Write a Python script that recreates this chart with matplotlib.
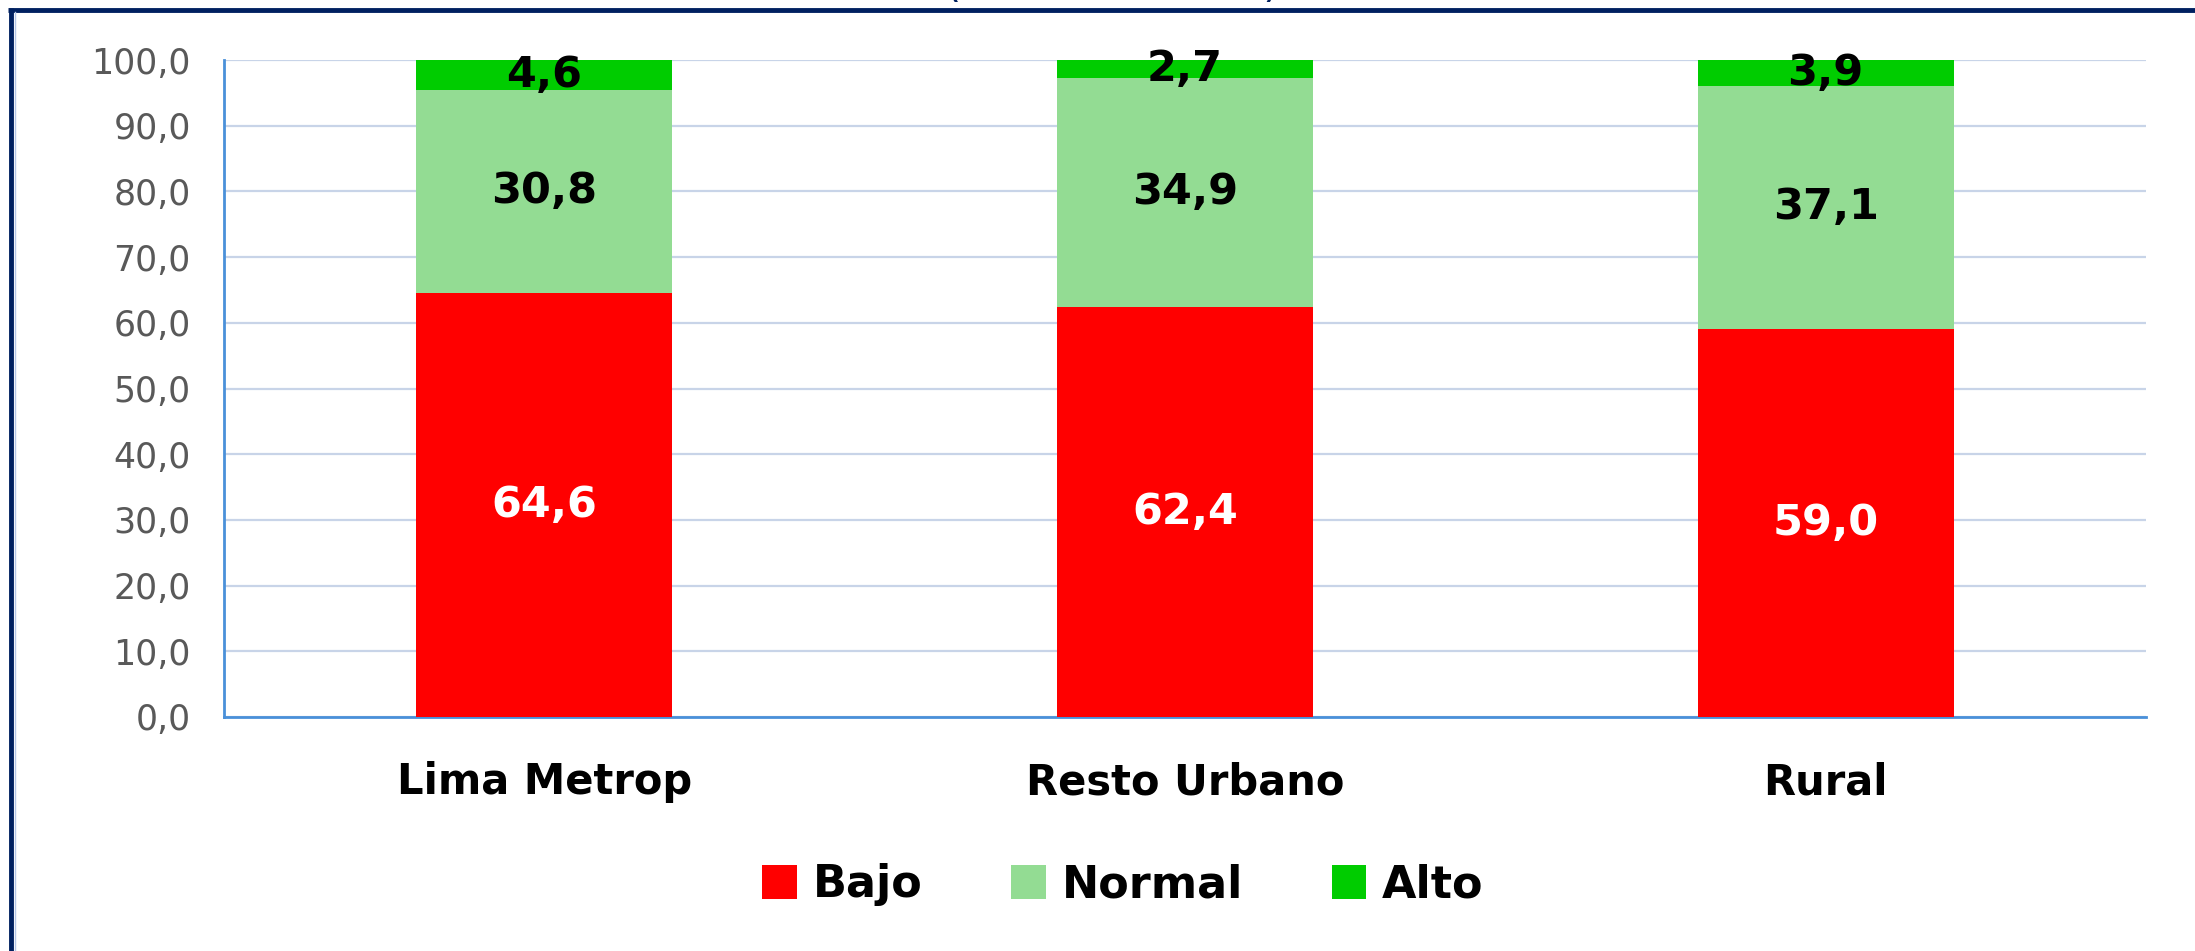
import matplotlib
matplotlib.use("Agg")
import matplotlib.pyplot as plt
import numpy as np
from matplotlib.lines import Line2D

categories = ["Lima Metrop", "Resto Urbano", "Rural"]
bajo = [64.6, 62.4, 59.0]
normal = [30.8, 34.9, 37.1]
alto = [4.6, 2.7, 3.9]
series_names = ["Bajo", "Normal", "Alto"]
yticks = [0, 10, 20, 30, 40, 50, 60, 70, 80, 90, 100]
title_text = "(Distribución %)"

c_bajo = "#FF0000"
c_normal = "#93DC93"
c_alto = "#00CC00"

fig = plt.figure(figsize=(21.95, 9.51), dpi=100)
ax = fig.add_axes([224/2195, 1-717/951, (2146-224)/2195, (717-60)/951])

x = np.arange(len(categories))
w = 0.40
b1 = ax.bar(x, bajo, w, color=c_bajo, label=series_names[0], zorder=3)
b2 = ax.bar(x, normal, w, bottom=bajo, color=c_normal, label=series_names[1], zorder=3)
bottom2 = [a + b for a, b in zip(bajo, normal)]
b3 = ax.bar(x, alto, w, bottom=bottom2, color=c_alto, label=series_names[2], zorder=3)

def fmt(v):
    return f"{v:.1f}".replace(".", ",")

lab_fs = 31
for i in range(len(categories)):
    ax.text(x[i], bajo[i]/2, fmt(bajo[i]), ha="center", va="center",
            color="white", fontsize=lab_fs, fontweight="bold", zorder=4)
    ax.text(x[i], bajo[i] + normal[i]/2, fmt(normal[i]), ha="center", va="center",
            color="black", fontsize=lab_fs, fontweight="bold", zorder=4)
    ax.text(x[i], bottom2[i] + alto[i]/2, fmt(alto[i]), ha="center", va="center",
            color="black", fontsize=lab_fs, fontweight="bold", zorder=4)

ax.set_xlim(-0.5, 2.5)
ax.set_ylim(0, 100)
ax.set_yticks(yticks)
ax.set_yticklabels([fmt(v) for v in yticks], color="#595959", fontsize=25)
ax.set_xticks(x)
ax.set_xticklabels(categories, fontsize=30, fontweight="bold", color="black")
ax.tick_params(axis="y", length=0, pad=24)
ax.tick_params(axis="x", length=0, pad=32)
ax.grid(axis="y", color="#C8D4E8", linewidth=1.6, zorder=0)
for s in ["top", "right"]:
    ax.spines[s].set_visible(False)
for s in ["left", "bottom"]:
    ax.spines[s].set_color("#4A90D9")
    ax.spines[s].set_linewidth(2.0)

leg = fig.legend(handles=[b1, b2, b3], labels=series_names, loc="center",
                 bbox_to_anchor=(1123/2195, 1-885/951), ncol=3, frameon=False,
                 prop={"size": 32, "weight": "bold"}, handlelength=0.78,
                 handleheight=0.78, handletextpad=0.35, columnspacing=2.0)

# title of the chart, only its lower edge shows at the top border
fig.text(1112/2195, 1 + 2.5/951, title_text, ha="center", va="baseline",
         fontsize=30, color="#002060")

# frame lines (top and left)
fig.add_artist(Line2D([8/2195, 1], [1-10/951, 1-10/951], transform=fig.transFigure,
                      color="#002060", linewidth=3.5, solid_capstyle="butt"))
fig.add_artist(Line2D([11/2195, 11/2195], [0, 1-8/951], transform=fig.transFigure,
                      color="#002060", linewidth=3.5, solid_capstyle="butt"))
fig.add_artist(Line2D([15/2195, 15/2195], [0, 1-12/951], transform=fig.transFigure,
                      color="#B4C6E7", linewidth=1.0))

fig.savefig("out.png", dpi=100)
